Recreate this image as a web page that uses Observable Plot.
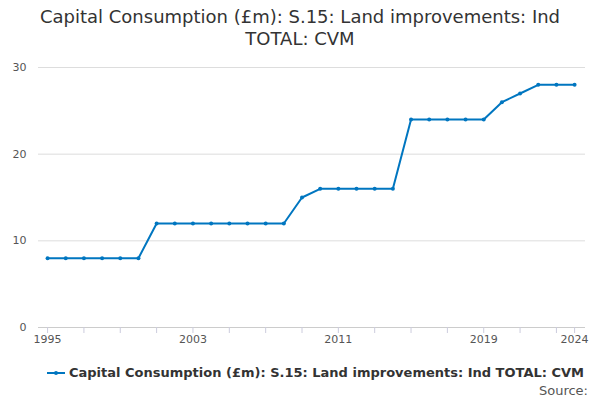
<!DOCTYPE html>
<html><head><meta charset="utf-8">
<script src="https://cdn.jsdelivr.net/npm/d3@7"></script>
<script src="https://cdn.jsdelivr.net/npm/@observablehq/plot@0.6"></script>
<style>
body{margin:0;font-family:"DejaVu Sans",sans-serif;background:#fff;width:600px;height:400px;position:relative;overflow:hidden}
#title{position:absolute;top:6px;left:0;width:600px;text-align:center;font-size:18px;line-height:22px;color:#333}
#chart{position:absolute;top:50px;left:0}
#legend{position:absolute;top:365px;left:47px;font-size:13px;color:#333;font-weight:bold;display:flex;align-items:center}
#source{position:absolute;top:383px;right:12px;font-size:13px;color:#555}
</style></head><body>
<div id="title">Capital Consumption (£m): S.15: Land improvements: Ind<br>TOTAL: CVM</div>
<div id="chart"></div>
<div id="legend"><svg width="20" height="10"><line x1="0" y1="5" x2="18" y2="5" stroke="#0076c0" stroke-width="2"/><circle cx="9" cy="5" r="2" fill="#0076c0"/></svg><span style="margin-left:2px">Capital Consumption (£m): S.15: Land improvements: Ind TOTAL: CVM</span></div>
<div id="source">Source:</div>
<script>
const years = d3.range(1995, 2025);
const values = [8,8,8,8,8,8,12,12,12,12,12,12,12,12,15,16,16,16,16,16,24,24,24,24,24,26,27,28,28,28];
const xTickLabels = [1995, 2003, 2011, 2019, 2024];
const yTicks = [0, 10, 20, 30];
const data = years.map((y, i) => ({year: y, value: values[i]}));
const tickYears = d3.range(1995, 2025, 2).concat([2024]);
const chart = Plot.plot({
  width: 600, height: 300,
  marginTop: 17, marginBottom: 23, marginLeft: 38, marginRight: 15,
  style: {fontFamily: "DejaVu Sans", fontSize: "11px", color: "#555"},
  x: {domain: [1994.5, 2024.6], ticks: xTickLabels, tickFormat: d => String(d), tickSize: 0, tickPadding: 8, label: null},
  y: {domain: [0, 30], ticks: yTicks, tickSize: 0, tickPadding: 12, label: null},
  marks: [
    Plot.gridY(yTicks, {stroke: "#ddd", strokeOpacity: 1}),
    Plot.ruleY([0], {stroke: "#ccc"}),
    Plot.ruleX(tickYears, {x: d => d, y1: 0, y2: 0, insetBottom: -6, stroke: "#ccd"}),
    Plot.line(data, {x: "year", y: "value", stroke: "#0076c0", strokeWidth: 2}),
    Plot.dot(data, {x: "year", y: "value", fill: "#0076c0", r: 2})
  ]
});
document.getElementById("chart").append(chart);
</script>
</body></html>
